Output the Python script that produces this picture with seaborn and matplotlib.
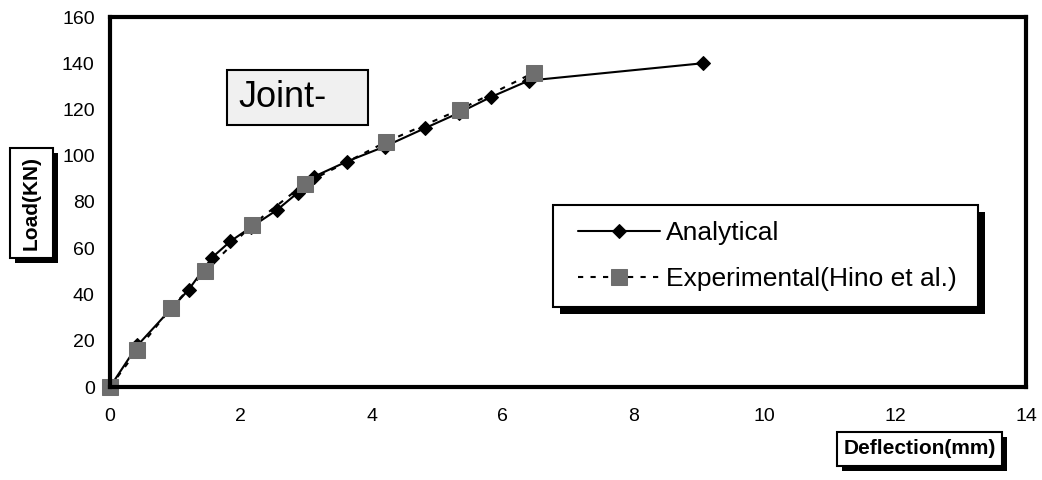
import matplotlib
matplotlib.use('Agg')
import matplotlib.pyplot as plt
from matplotlib.patches import Rectangle
import seaborn as sns

# ---- data ----
defl_analytical = [0, 0.42, 1.2, 1.56, 1.84, 2.15, 2.55, 2.87, 3.12, 3.62, 4.2, 4.82, 5.33, 5.83, 6.4, 9.06]
load_analytical = [0, 18, 42, 56, 63, 69, 76.5, 84, 91, 97.5, 104, 112, 118.5, 125.5, 132.5, 140]

defl_exp = [0, 0.42, 0.93, 1.45, 2.17, 2.98, 4.22, 5.35, 6.48]
load_exp = [0, 16, 34, 50, 70, 88, 106, 120, 136]

x_ticks = [0, 2, 4, 6, 8, 10, 12, 14]
y_ticks = [0, 20, 40, 60, 80, 100, 120, 140, 160]

W, H = 1042, 480

sns.set_style('white')
plt.rcParams['font.family'] = ['Liberation Sans', 'DejaVu Sans']
plt.rcParams['text.color'] = 'black'
plt.rcParams['axes.labelcolor'] = 'black'


def fx(px):
  return px / W


def fy(py):
  return 1 - py / H


def box(parent, x0, y0, x1, y1, face='white', shadow=None, lw=1.5, z=1):
  # rectangle given in pixel coords (top-left origin), optional black drop shadow
  if shadow:
    parent.add_artist(Rectangle((fx(x0 + shadow), fy(y1 + shadow)), fx(x1 - x0), (y1 - y0) / H,
                                transform=fig.transFigure, facecolor='black', edgecolor='none',
                                zorder=z, clip_on=False))
  parent.add_artist(Rectangle((fx(x0), fy(y1)), fx(x1 - x0), (y1 - y0) / H,
                              transform=fig.transFigure, facecolor=face, edgecolor='black',
                              linewidth=lw, zorder=z + 0.1, clip_on=False))


fig = plt.figure(figsize=(W / 100, H / 100), dpi=100)
ax = fig.add_axes([fx(110), fy(387), fx(1026 - 110), (387 - 17) / H])

sns.lineplot(x=defl_analytical, y=load_analytical, ax=ax, color='black', marker='D', markersize=7,
             markeredgecolor='black', linewidth=1.5, label='Analytical', estimator=None, sort=False,
             clip_on=False)
sns.lineplot(x=defl_exp, y=load_exp, ax=ax, color='black', linestyle=(0, (2.5, 3.5)), marker='s',
             markersize=11, markerfacecolor='#6e6e6e', markeredgecolor='#6e6e6e', linewidth=1.5,
             label='Experimental(Hino et al.)', estimator=None, sort=False, clip_on=False)

ax.set_xlim(0, 14)
ax.set_ylim(0, 160)
ax.set_xticks(x_ticks)
ax.set_yticks(y_ticks)
ax.set_xlabel('')
ax.set_ylabel('')
for s in ax.spines.values():
  s.set_visible(True)
  s.set_color('black')
  s.set_linewidth(3)
ax.tick_params(axis='both', direction='in', length=5.5, width=2, color='black', labelsize=14,
               labelcolor='black')
ax.tick_params(axis='x', pad=15)
ax.tick_params(axis='y', pad=11)

# legend: frame drawn by hand so it gets the solid drop shadow
box(ax, 553, 205, 978, 307, shadow=7, z=4)
handles, labels = ax.get_legend_handles_labels()
leg = ax.legend(handles, labels, loc='upper left', bbox_to_anchor=(fx(578), fy(221)),
                bbox_transform=fig.transFigure, frameon=False, borderpad=0, borderaxespad=0,
                fontsize=19, handlelength=3.1, handletextpad=0.25, labelspacing=0.85)
leg.set_zorder(6)

# "Joint-" label box
box(ax, 227, 70, 368, 125, face='#f0f0f0', z=4)
fig.text(fx(238), fy(107), 'Joint-', fontsize=26, ha='left', va='baseline', zorder=6)

# axis titles in shadowed boxes
box(fig, 10, 148, 53, 258, shadow=5)
fig.text(fx(31.5), fy(203), 'Load(KN)', fontsize=15, fontweight='bold', rotation=90,
         ha='center', va='center', zorder=3)
box(fig, 837, 432, 1002, 466, shadow=5)
fig.text(fx(919.5), fy(449), 'Deflection(mm)', fontsize=15, fontweight='bold',
         ha='center', va='center', zorder=3)

fig.savefig('out.png', dpi=100)
